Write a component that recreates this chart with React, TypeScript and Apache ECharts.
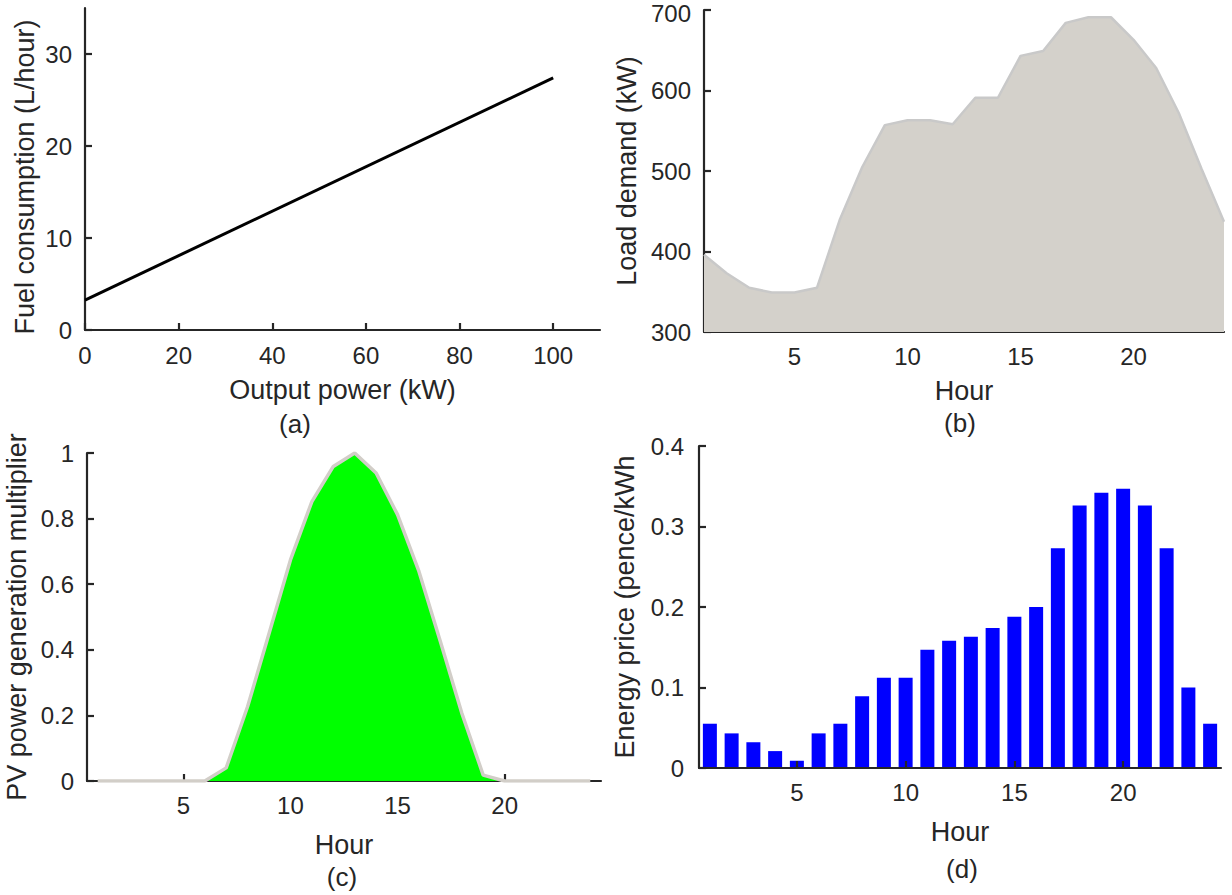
import React, { useEffect, useRef } from 'react';
import * as echarts from 'echarts';

// (a) generator fuel curve
const outputPower = [0, 100];
const fuelConsumption = [3.25, 27.4];
const fuelXTicks = [0, 20, 40, 60, 80, 100];
const fuelYTicks = [0, 10, 20, 30];

// hours 1..24
const hours = [1, 2, 3, 4, 5, 6, 7, 8, 9, 10, 11, 12, 13, 14, 15, 16, 17, 18, 19, 20, 21, 22, 23, 24];
const hourTicks = [5, 10, 15, 20];

// (b) load demand (kW)
const loadDemand = [396, 373, 355, 349, 349, 355, 439, 505, 557, 563, 563, 558, 591, 591, 643, 649, 684, 691, 691, 663, 628, 572, 503, 437];

// (c) PV power generation multiplier
const pvMultiplier = [0, 0, 0, 0, 0, 0, 0.04, 0.227, 0.45, 0.674, 0.852, 0.959, 1.0, 0.939, 0.812, 0.639, 0.425, 0.207, 0.018, 0, 0, 0, 0, 0];
const pvYTicks = [0, 0.2, 0.4, 0.6, 0.8, 1];

// (d) energy price (pence/kWh)
const energyPrice = [0.055, 0.043, 0.032, 0.021, 0.009, 0.043, 0.055, 0.089, 0.112, 0.112, 0.147, 0.158, 0.163, 0.174, 0.188, 0.2, 0.273, 0.326, 0.342, 0.347, 0.326, 0.273, 0.1, 0.055];
const priceYTicks = [0, 0.1, 0.2, 0.3, 0.4];

const FONT = "'Liberation Sans', Arial, Helvetica, sans-serif";
const INK = '#262626';

function axisBase(extra: any) {
  return {
    axisLine: { show: true, lineStyle: { color: INK, width: 2.2 } },
    axisTick: { show: true, inside: true, length: 7, lineStyle: { color: INK, width: 2.2 } },
    axisLabel: { color: INK, fontSize: 24, fontFamily: FONT },
    splitLine: { show: false },
    nameTextStyle: { color: INK, fontSize: 27, fontFamily: FONT },
    nameLocation: 'middle',
    ...extra,
  };
}

export default function App() {
  const ref = useRef<HTMLDivElement>(null);

  useEffect(() => {
    if (!ref.current) return;
    const chart = echarts.init(ref.current, null, { renderer: 'svg' });

    const grids = [
      { left: 85, top: 8, width: 515, height: 322, outerBoundsMode: 'none' },
      { left: 704, top: 10, width: 520, height: 322, outerBoundsMode: 'none' },
      { left: 87, top: 453, width: 514, height: 328, outerBoundsMode: 'none' },
      { left: 699, top: 446, width: 522, height: 322, outerBoundsMode: 'none' },
    ];

    const xAxes = [
      axisBase({
        gridIndex: 0, type: 'value', min: 0, max: 110,
        name: 'Output power (kW)', nameGap: 46,
        axisTick: { show: true, inside: true, length: 7, lineStyle: { color: INK, width: 2.2 }, customValues: fuelXTicks },
        axisLabel: { color: INK, fontSize: 24, fontFamily: FONT, margin: 13, customValues: fuelXTicks },
      }),
      axisBase({
        gridIndex: 1, type: 'value', min: 1, max: 24,
        name: 'Hour', nameGap: 45,
        axisTick: { show: true, inside: true, length: 7, lineStyle: { color: INK, width: 2.2 }, customValues: hourTicks },
        axisLabel: { color: INK, fontSize: 24, fontFamily: FONT, margin: 12, customValues: hourTicks },
      }),
      axisBase({
        gridIndex: 2, type: 'value', min: 0.5, max: 24.5,
        name: 'Hour', nameGap: 50,
        axisTick: { show: true, inside: true, length: 7, lineStyle: { color: INK, width: 2.2 }, customValues: hourTicks },
        axisLabel: { color: INK, fontSize: 24, fontFamily: FONT, margin: 12, customValues: hourTicks },
      }),
      axisBase({
        gridIndex: 3, type: 'value', min: 0.5, max: 24.5, z: 5,
        name: 'Hour', nameGap: 50,
        axisTick: { show: true, inside: true, length: 7, lineStyle: { color: INK, width: 2.2 }, customValues: hourTicks },
        axisLabel: { color: INK, fontSize: 24, fontFamily: FONT, margin: 12, customValues: hourTicks },
      }),
    ];

    const yAxes = [
      axisBase({
        gridIndex: 0, type: 'value', min: 0, max: 35,
        name: 'Fuel consumption (L/hour)', nameGap: 47,
        nameTextStyle: { color: INK, fontSize: 27, fontFamily: FONT, padding: [0, 16, 0, 0] },
        axisTick: { show: true, inside: true, length: 7, lineStyle: { color: INK, width: 2.2 }, customValues: fuelYTicks },
        axisLabel: { color: INK, fontSize: 24, fontFamily: FONT, margin: 13, customValues: fuelYTicks },
      }),
      axisBase({
        gridIndex: 1, type: 'value', min: 300, max: 700, interval: 100,
        name: 'Load demand (kW)', nameGap: 64,
        axisLabel: {
          color: INK, fontSize: 24, fontFamily: FONT, margin: 13,
          formatter: (v: number) => (v === 700 ? '{top|700}' : String(v)),
          rich: { top: { color: INK, fontSize: 24, fontFamily: FONT, padding: [7, 0, 0, 0] } },
        },
      }),
      axisBase({
        gridIndex: 2, type: 'value', min: 0, max: 1,
        name: 'PV power generation multiplier', nameGap: 57,
        axisTick: { show: true, inside: true, length: 7, lineStyle: { color: INK, width: 2.2 }, customValues: pvYTicks },
        axisLabel: { color: INK, fontSize: 24, fontFamily: FONT, margin: 13, customValues: pvYTicks },
      }),
      axisBase({
        gridIndex: 3, type: 'value', min: 0, max: 0.4, z: 5,
        name: 'Energy price (pence/kWh', nameGap: 61,
        axisTick: { show: true, inside: true, length: 7, lineStyle: { color: INK, width: 2.2 }, customValues: priceYTicks },
        axisLabel: { color: INK, fontSize: 24, fontFamily: FONT, margin: 15, customValues: priceYTicks },
      }),
    ];

    const captionStyle = (text: string, x: number, y: number) => ({
      type: 'text', x, y,
      style: { text, fill: INK, fontSize: 26, fontFamily: FONT, align: 'center', verticalAlign: 'middle' },
    });

    chart.setOption({
      animation: false,
      backgroundColor: '#ffffff',
      grid: grids,
      xAxis: xAxes,
      yAxis: yAxes,
      series: [
        {
          type: 'line', xAxisIndex: 0, yAxisIndex: 0,
          data: outputPower.map((p, i) => [p, fuelConsumption[i]]),
          showSymbol: false, symbol: 'none',
          lineStyle: { color: '#000000', width: 3 },
        },
        {
          type: 'line', xAxisIndex: 1, yAxisIndex: 1,
          data: hours.map((h, i) => [h, loadDemand[i]]),
          showSymbol: false, symbol: 'none',
          lineStyle: { color: '#c9c9c9', width: 2.5 },
          areaStyle: { color: '#d4d1cb', opacity: 1, origin: 'start' },
        },
        {
          type: 'line', xAxisIndex: 2, yAxisIndex: 2,
          data: hours.map((h, i) => [h, pvMultiplier[i]]),
          showSymbol: false, symbol: 'none',
          lineStyle: { color: '#d2cec8', width: 3.5 },
          areaStyle: { color: '#00ff00', opacity: 1, origin: 'start' },
        },
        {
          type: 'bar', xAxisIndex: 3, yAxisIndex: 3,
          data: hours.map((h, i) => [h, energyPrice[i]]),
          barWidth: 14,
          itemStyle: { color: '#0000ff' },
        },
      ],
      graphic: [
        captionStyle('(a)', 295, 424),
        captionStyle('(b)', 960, 423),
        captionStyle('(c)', 342, 877),
        captionStyle('(d)', 962, 869),
      ],
    });

    return () => chart.dispose();
  }, []);

  return (
    <div
      ref={ref}
      style={{ position: 'fixed', left: 0, top: 0, width: 1232, height: 895, background: '#fff' }}
    />
  );
}
